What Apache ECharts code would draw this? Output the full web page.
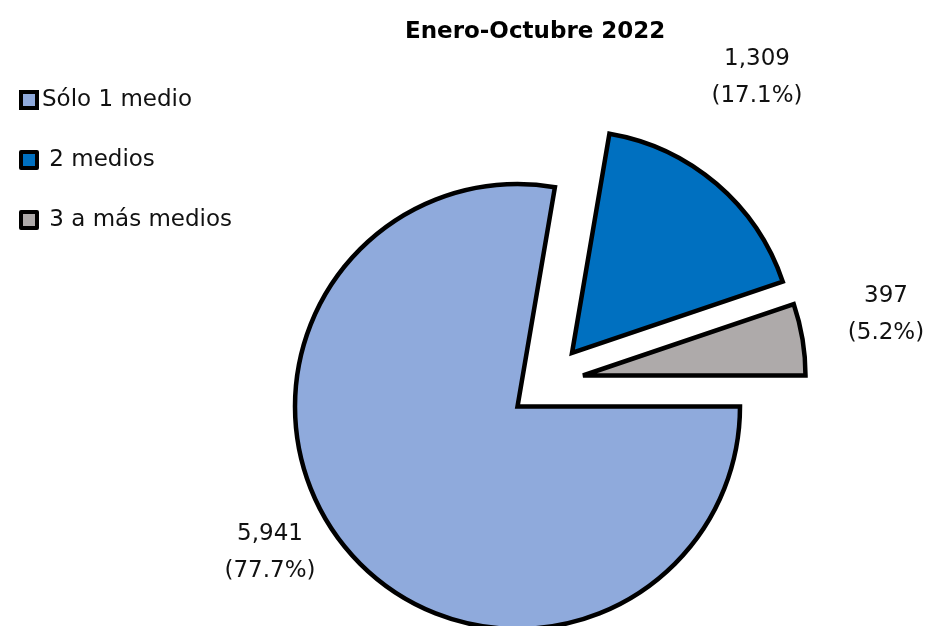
<!DOCTYPE html>
<html>
<head>
<meta charset="utf-8">
<script src="https://cdn.jsdelivr.net/npm/echarts@6/dist/echarts.min.js"></script>
<style>
  html, body { margin: 0; padding: 0; background: #fff; }
  #chart { width: 925px; height: 626px; }
</style>
</head>
<body>
<div id="chart"></div>
<script>
// datos del gráfico
const categories = ['Sólo 1 medio', '2 medios', '3 a más medios'];
const values = [5941, 1309, 397];
const colors = ['#8FAADC', '#0070C0', '#AEAAAA'];

// cada porción se dibuja en su propia serie para poder separarla (explode)
const centers = [[517.5, 406.5], [572, 353], [583, 375.5]];
const labelAnchors = [[270, 553], [757, 78], [886, 315]];

const chart = echarts.init(document.getElementById('chart'));

const series = categories.map(function (_, k) {
  return {
    type: 'pie',
    center: centers[k],
    radius: 222.5,
    startAngle: 0,
    clockwise: true,
    percentPrecision: 1,
    avoidLabelOverlap: false,
    silent: true,
    animation: false,
    label: {
      color: '#111',
      fontFamily: 'DejaVu Sans',
      fontSize: 23,
      lineHeight: 37,
      align: 'center',
      formatter: function (p) {
        return p.value.toLocaleString('en-US') + '\n(' + p.percent.toFixed(1) + '%)';
      }
    },
    labelLine: { show: false },
    labelLayout: function () {
      return { x: labelAnchors[k][0], y: labelAnchors[k][1], align: 'center', verticalAlign: 'middle' };
    },
    data: categories.map(function (name, i) {
      return {
        name: name,
        value: values[i],
        itemStyle: i === k
          ? { color: colors[i], borderColor: '#000', borderWidth: 4.5, borderJoin: 'miter', borderMiterLimit: 4 }
          : { color: 'rgba(0,0,0,0)', borderWidth: 0 },
        label: { show: i === k }
      };
    })
  };
});

const option = {
  backgroundColor: '#fff',
  title: {
    text: 'Enero-Octubre 2022',
    left: 405,
    top: 21,
    padding: 0,
    textStyle: {
      fontFamily: 'DejaVu Sans',
      fontWeight: 'bold',
      fontSize: 23,
      color: '#000'
    }
  },
  legend: {
    orient: 'vertical',
    left: 19,
    top: 88,
    padding: 0,
    itemGap: 36,
    itemWidth: 16,
    itemHeight: 16,
    icon: 'rect',
    selectedMode: false,
    formatter: function (name) {
      return categories.indexOf(name) === 0 ? name : ' ' + name;
    },
    textStyle: {
      fontFamily: 'DejaVu Sans',
      fontSize: 23,
      lineHeight: 24,
      color: '#111'
    },
    data: categories.map(function (name, i) {
      return {
        name: name,
        itemStyle: { color: colors[i], borderColor: '#000', borderWidth: 4 }
      };
    })
  },
  series: series
};

chart.setOption(option);
</script>
</body>
</html>
